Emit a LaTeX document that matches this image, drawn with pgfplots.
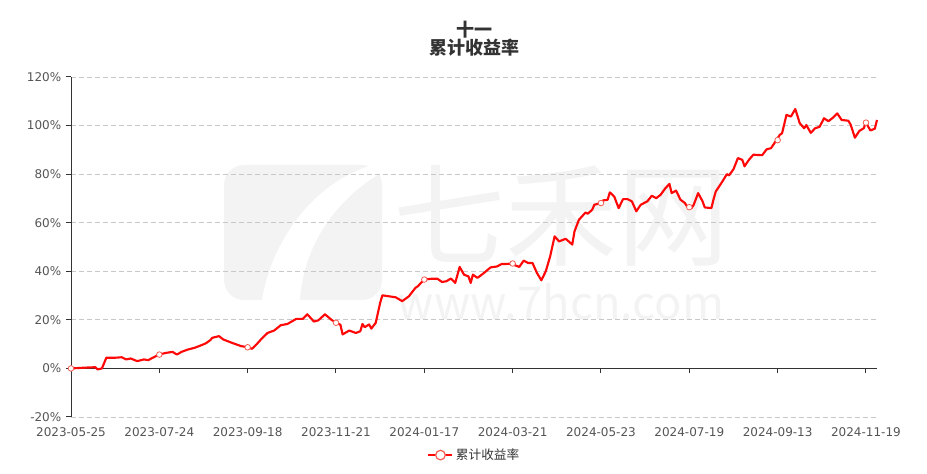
\documentclass[border=0pt]{standalone}
\usepackage{pgfplots}
\pgfplotsset{compat=1.18}
\usepackage{fontspec}
\setmainfont{DejaVu Sans}
\newfontfamily\cjk{Noto Sans CJK SC}
\definecolor{linered}{RGB}{255,8,8}
\definecolor{markred}{RGB}{245,90,80}
\definecolor{labgray}{RGB}{85,85,85}
\definecolor{axdark}{RGB}{51,51,51}
\definecolor{gridgray}{RGB}{200,200,200}
\definecolor{wm}{RGB}{243,243,243}
\begin{document}
\begin{tikzpicture}
\useasboundingbox (-53.25pt,-42.75pt) rectangle ++(695.25pt,355.5pt);
% watermark
\fill[wm, rounded corners=15pt] (114.75pt,87.75pt) rectangle (233.25pt,189pt);
\fill[white] (143.25pt,87.75pt) .. controls (150pt,130pt) and (180pt,175pt) .. (225.75pt,189pt)
  -- (243pt,189pt) .. controls (205pt,170pt) and (175pt,135pt) .. (171.75pt,87.75pt) -- cycle;
\node[text=wm, font=\cjk\fontsize{84}{84}\selectfont] at (367.5pt,150.75pt) {七禾网};
\node[text=wm, font=\cjk\fontsize{34}{34}\selectfont] at (367.5pt,86.25pt) {www.7hcn.com};
\begin{axis}[
  scale only axis, width=604.5pt, height=255pt,
  xmin=0, xmax=365, ymin=-20, ymax=120,
  axis lines*=left, axis line style={-, draw=axdark, line width=0.75pt},
  x axis line style={draw=none},
  xtick={0,40,...,360},
  xticklabels={2023-05-25,2023-07-24,2023-09-18,2023-11-21,2024-01-17,2024-03-21,2024-05-23,2024-07-19,2024-09-13,2024-11-19},
  xtick style={draw=none},
  ytick={-20,0,20,40,60,80,100,120},
  yticklabels={-20\%,0\%,20\%,40\%,60\%,80\%,100\%,120\%},
  ytick style={draw=axdark, line width=0.75pt},
  tick align=outside, major tick length=3.75pt,
  ticklabel style={font=\fontsize{9}{10}\selectfont, text=labgray},
  xticklabel style={yshift=-1pt},
  ymajorgrids, major grid style={gridgray, dash pattern=on 3.5pt off 2.5pt, line width=0.6pt},
  clip=false,
  legend style={at={(axis description cs:0.501,-0.112)}, anchor=center, draw=none, fill=none,
    font=\cjk\fontsize{9.5}{10}\selectfont, text=axdark, legend cell align=left},
  legend image code/.code={\draw[linered, line width=1.2pt] (0pt,0pt) -- (18pt,0pt);
     \draw[markred, fill=white, line width=0.9pt] (9pt,0pt) circle (3.6pt);},
]
\draw[axdark, line width=0.75pt] (axis cs:0,0) -- (axis cs:365,0);
\pgfplotsinvokeforeach{40,80,...,360}{\draw[axdark, line width=0.75pt] (axis cs:#1,0) -- ++(0pt,-3.75pt);}
\addplot[linered, line width=1.6pt, line join=round, no marks] coordinates {
(0,0.0)(6,0.3)(11,0.5)(12,-0.4)(14,0.0)(16,4.4)(20,4.4)(23,4.6)(25,3.7)(27,4.1)(30,3.0)(33,3.7)(35,3.4)(37,4.4)(40,5.7)(43,6.4)(46,6.8)(48,5.7)(50,6.8)(53,7.8)(56,8.5)(58,9.2)(61,10.3)(63,11.6)(64,12.6)(67,13.3)(69,11.9)(71,11.2)(73,10.5)(77,9.2)(80,8.7)(82,8.1)(84,9.9)(86,11.9)(89,14.6)(92,15.6)(95,17.8)(98,18.3)(102,20.4)(105,20.4)(107,22.3)(110,19.3)(112,19.8)(115,22.3)(118,20.0)(120,18.8)(122,18.0)(123,14.0)(126,15.6)(129,14.6)(131,15.3)(132,18.3)(133,17.0)(135,18.1)(136,16.4)(138,18.8)(139,22.9)(140,27.0)(141,30.1)(144,29.7)(147,29.3)(150,27.7)(153,29.7)(156,33.2)(157,33.8)(160,36.6)(163,36.9)(166,36.9)(168,35.6)(170,35.9)(172,37.0)(174,35.2)(176,41.8)(178,38.6)(180,37.9)(181,35.2)(182,38.6)(184,37.3)(185,37.9)(187,39.3)(190,41.6)(193,42.0)(195,43.0)(197,43.0)(200,43.2)(201,42.5)(203,41.8)(205,44.4)(207,43.4)(209,43.4)(211,39.3)(213,36.3)(215,40.0)(217,46.2)(219,54.4)(221,52.3)(224,53.4)(225,52.6)(227,51.0)(228,56.4)(230,61.2)(233,64.2)(234,63.7)(236,65.3)(237,67.4)(240,68.1)(241,69.2)(243,69.4)(244,72.5)(246,70.8)(248,66.0)(250,69.7)(252,69.7)(254,68.8)(256,64.7)(258,67.4)(261,68.8)(263,71.1)(265,70.1)(267,71.5)(269,74.0)(271,76.0)(272,72.2)(274,73.2)(276,69.5)(278,68.1)(279,66.7)(281,66.0)(282,67.4)(284,72.2)(286,68.8)(287,66.3)(290,66.0)(291,69.7)(292,72.9)(295,77.0)(297,80.0)(298,79.5)(300,82.0)(302,86.6)(304,85.9)(305,83.2)(307,85.9)(309,88.0)(313,87.8)(315,90.2)(317,90.7)(319,93.4)(321,96.2)(322,96.8)(324,104.4)(326,103.7)(328,106.8)(330,101.0)(332,98.9)(333,100.2)(335,97.0)(337,98.9)(339,99.5)(341,103.0)(343,101.8)(345,103.2)(347,105.0)(349,102.3)(352,102.0)(353,100.5)(355,95.0)(357,97.8)(359,98.9)(360,101.2)(362,98.0)(364,98.7)(365,102.3)
};
\addlegendentry{累计收益率}
\addplot[only marks, mark=*, mark size=2.1pt, mark options={draw=markred, fill=white, line width=0.6pt}, forget plot] coordinates {
(0,0.0)(40,5.7)(80,8.7)(120,18.8)(160,36.6)(200,43.2)(240,68.1)(280,66.4)(320,94.0)(360,101.2)
};
\end{axis}
\node[font=\cjk\bfseries\fontsize{13.5}{14}\selectfont, text=axdark] at (302.25pt,290.25pt) {十一};
\node[font=\cjk\bfseries\fontsize{13.5}{14}\selectfont, text=axdark] at (302.25pt,276.75pt) {累计收益率};
\end{tikzpicture}
\end{document}
